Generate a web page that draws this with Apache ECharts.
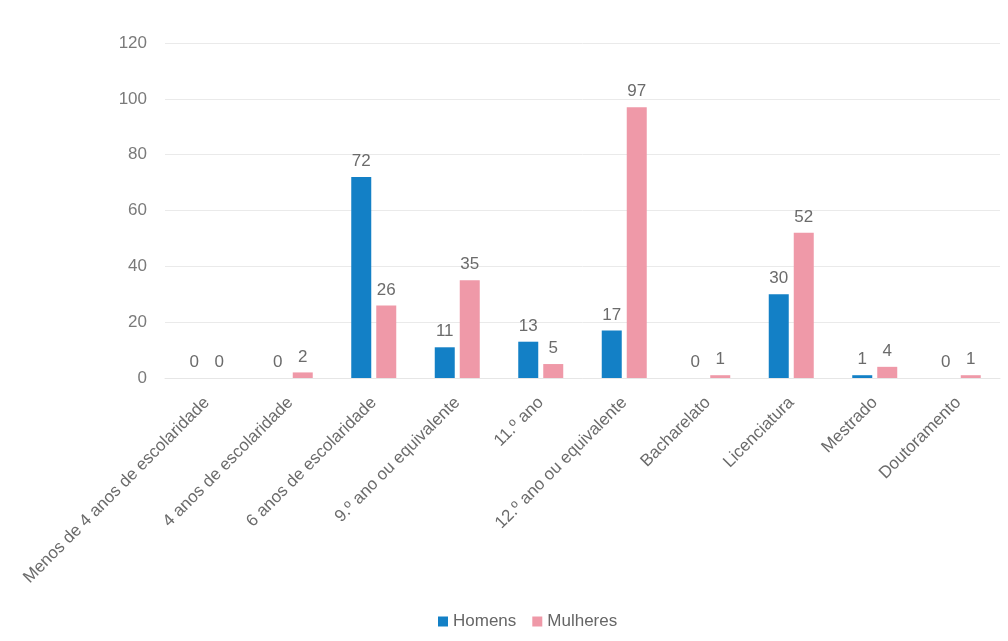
<!DOCTYPE html>
<html><head><meta charset="utf-8">
<script src="https://cdn.jsdelivr.net/npm/echarts@6/dist/echarts.min.js"></script>
<style>html,body{margin:0;padding:0;background:#fff}#c{width:1008px;height:641px}</style>
</head><body><div id="c"></div>
<script>
const categories = ["Menos de 4 anos de escolaridade","4 anos de escolaridade","6 anos de escolaridade","9.º ano ou equivalente","11.º ano","12.º ano ou equivalente","Bacharelato","Licenciatura","Mestrado","Doutoramento"];
const homens = [0,0,72,11,13,17,0,30,1,0];
const mulheres = [0,2,26,35,5,97,1,52,4,1];
const seriesNames = ["Homens","Mulheres"];
const FONT = "'Liberation Sans',Arial,sans-serif";
const chart = echarts.init(document.getElementById('c'));
const lbl = {show:true,position:'top',color:'#6b6b6b',fontSize:17,fontFamily:FONT,distance:7};
chart.setOption({
  animation:false,
  grid:{left:165,right:8,top:43,bottom:263},
  legend:{bottom:6,left:433,itemWidth:10,itemHeight:10,itemGap:16,icon:'rect',
    textStyle:{color:'#666',fontSize:17,fontFamily:FONT},data:seriesNames},
  xAxis:{type:'category',data:categories,
    axisLine:{show:true,lineStyle:{color:'#e6e6e6'}},axisTick:{show:false},
    axisLabel:{interval:0,rotate:45,color:'#6b6b6b',fontSize:17,fontFamily:FONT,margin:22}},
  yAxis:{type:'value',min:0,max:120,interval:20,
    axisLabel:{color:'#7a7a7a',fontSize:17,fontFamily:FONT,margin:18},
    splitLine:{lineStyle:{color:'#eaeaea'}}},
  series:[
    {name:seriesNames[0],type:'bar',data:homens,barWidth:20,barGap:'25%',itemStyle:{color:'#1380c6'},label:lbl},
    {name:seriesNames[1],type:'bar',data:mulheres,barWidth:20,itemStyle:{color:'#ef99a8'},label:lbl}
  ]
});
</script></body></html>
